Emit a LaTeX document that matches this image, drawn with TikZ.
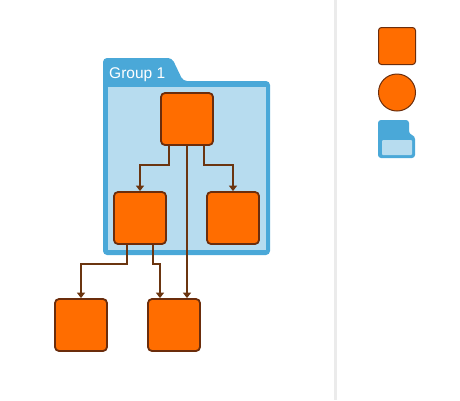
\documentclass[tikz,border=0pt]{standalone}
\usepackage{fontspec}
\setmainfont{Liberation Sans}
\usetikzlibrary{arrows.meta}
\definecolor{boxfill}{HTML}{FF6D00}
\definecolor{boxline}{HTML}{6B2D0C}
\definecolor{linkcol}{HTML}{6B3510}
\definecolor{groupdark}{HTML}{4AA8D8}
\definecolor{grouplight}{HTML}{B7DCEF}
\definecolor{divider}{HTML}{EBEBEB}
\begin{document}
\begin{tikzpicture}[x=1pt,y=-1pt,
  box/.style={draw=boxline,fill=boxfill,line width=1.8pt,rounded corners=4pt,minimum size=52pt,inner sep=0pt},
  link/.style={draw=linkcol,line width=1.5pt,-{Triangle[width=8pt,length=5.5pt]}}]
\useasboundingbox (0,0) rectangle (460,400);
% group
\fill[groupdark,rounded corners=4pt] (103,58) -- (172,58) -- (183,81) -- (270,81) -- (270,255) -- (103,255) -- cycle;
\fill[grouplight] (108,87) rectangle (266,250);
\node[anchor=base west,text=white,inner sep=0pt,font=\fontsize{15.5}{18}\selectfont] (grouplabel) at (109,78.5) {Group 1};
% nodes
\node[box] (root) at (187,119) {};
\node[box] (midleft) at (140,218) {};
\node[box] (midright) at (233,218) {};
\node[box] (lowleft) at (81,325) {};
\node[box] (lowright) at (174,325) {};
% links
\draw[link] ([xshift=-18pt]root.south) -- ++(0,19) -| (midleft.north);
\draw[link] ([xshift=17pt]root.south) -- ++(0,19) -| (midright.north);
\draw[link] (root.south) -- (root.south |- lowright.north);
\draw[link] ([xshift=-13pt]midleft.south) -- ++(0,19) -| (lowleft.north);
\draw[link] ([xshift=13pt]midleft.south) -- ++(0,19) -| ([xshift=-14pt]lowright.north);
% sidebar
\draw[divider,line width=3pt] (335,0) -- (335,400);
\node[draw=boxline,fill=boxfill,line width=1pt,rounded corners=3pt,minimum size=37pt,inner sep=0pt] (keybox) at (397,46) {};
\node[draw=boxline,fill=boxfill,line width=1pt,circle,minimum size=37pt,inner sep=0pt] (keycircle) at (397,92.5) {};
\fill[groupdark,rounded corners=3pt] (378,120) -- (409,120) -- (409,134) -- (415,136) -- (415,158) -- (378,158) -- cycle;
\fill[grouplight,rounded corners=1pt] (382,140) rectangle (412,155);
\end{tikzpicture}
\end{document}
